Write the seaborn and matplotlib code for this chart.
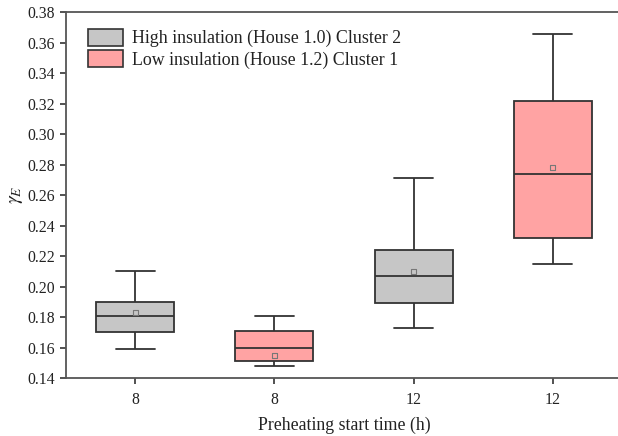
import matplotlib
matplotlib.use("Agg")
import matplotlib.pyplot as plt
from matplotlib.patches import Patch
import numpy as np
import pandas as pd
import seaborn as sns

# Box statistics per group: lower whisker, Q1, median, Q3, upper whisker
groups = ["G1", "G2", "G3", "G4"]
tick_labels = ["8", "8", "12", "12"]
insulation = ["High insulation (House 1.0) Cluster 2",
              "Low insulation (House 1.2) Cluster 1",
              "High insulation (House 1.0) Cluster 2",
              "Low insulation (House 1.2) Cluster 1"]
whisker_low = [0.159, 0.148, 0.173, 0.215]
q1 = [0.170, 0.151, 0.189, 0.232]
median = [0.181, 0.160, 0.207, 0.274]
q3 = [0.190, 0.171, 0.224, 0.322]
whisker_high = [0.210, 0.181, 0.271, 0.366]
mean = [0.183, 0.155, 0.210, 0.278]

palette = {"High insulation (House 1.0) Cluster 2": "#C6C6C6",
           "Low insulation (House 1.2) Cluster 1": "#FFA3A3"}

sns.set_style("ticks")
plt.rcParams["font.family"] = ["Liberation Serif", "DejaVu Serif"]
plt.rcParams["mathtext.fontset"] = "stix"

# Five summary points per group reproduce the quartiles and whisker ends exactly
rows = []
for g, ins, a, b, c, d, e in zip(groups, insulation, whisker_low, q1, median, q3, whisker_high):
    for v in (a, b, c, d, e):
        rows.append({"group": g, "insulation": ins, "value": v})
df = pd.DataFrame(rows)
means_df = pd.DataFrame({"group": groups, "mean": mean})

fig = plt.figure(figsize=(6.18, 4.36), dpi=100)
ax = fig.add_axes([0.1063, 0.133, 0.9007, 0.8388])

edge = "#333333"
sns.boxplot(data=df, x="group", y="value", hue="insulation", order=groups,
            palette=palette, saturation=1, dodge=False, width=0.56, whis=np.inf,
            linecolor=edge, linewidth=1.3, showfliers=False,
            legend=False, ax=ax)

sns.scatterplot(data=means_df, x="group", y="mean", marker="s", s=14,
                facecolor="none", edgecolor="#777777", linewidth=0.8,
                legend=False, ax=ax, zorder=5)

ax.set_xlim(-0.5, 3.5)
ax.set_ylim(0.14, 0.38)
yt = np.arange(0.14, 0.381, 0.02)
ax.set_yticks(yt)
ax.set_yticklabels([f"{t:.2f}" for t in yt])
ax.set_xticks(range(len(groups)))
ax.set_xticklabels(tick_labels)
ax.tick_params(axis="both", direction="out", length=4, width=1.2,
               color="#333333", labelsize=11.3, labelcolor="#222222")
ax.tick_params(axis="x", pad=6)

for s in ax.spines.values():
    s.set_color("#555555")
    s.set_linewidth(1.3)
ax.spines["right"].set_visible(False)

ax.set_xlabel("Preheating start time (h)", fontsize=12.8, color="#222222", labelpad=6)
ax.set_ylabel(r"$\gamma_E$", fontsize=14, color="#222222", labelpad=2)

handles = [Patch(facecolor=palette[k], edgecolor=edge, linewidth=1.2, label=k)
           for k in palette]
ax.legend(handles=handles, loc="upper left", frameon=False, fontsize=12.9,
          handlelength=1.95, handleheight=1.1, handletextpad=0.55,
          labelspacing=0.15, bbox_to_anchor=(0.02, 0.985), borderaxespad=0.2,
          labelcolor="#222222")

fig.savefig("out.png", dpi=100)
